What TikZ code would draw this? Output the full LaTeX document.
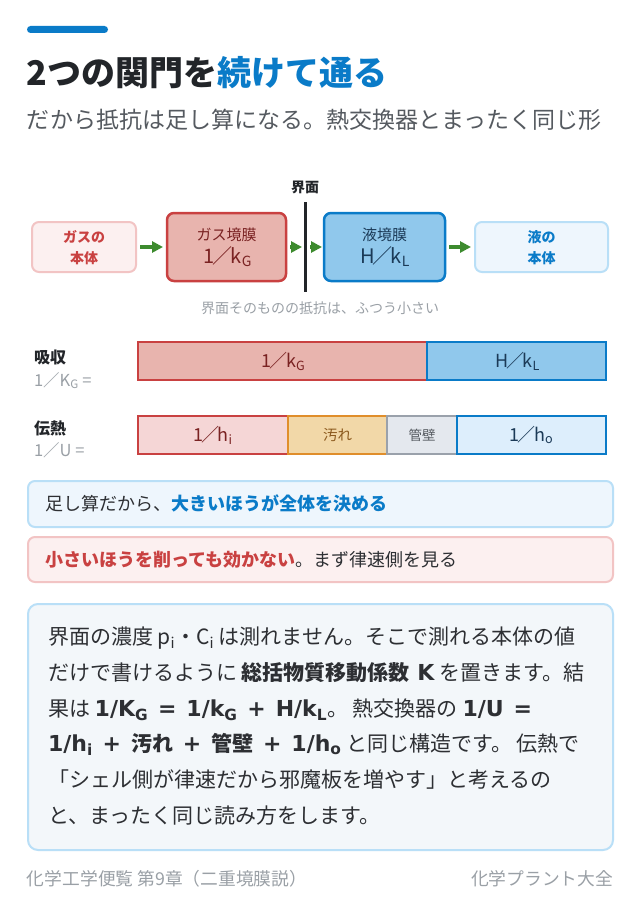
\documentclass[tikz,border=0pt]{standalone}
\usepackage{fontspec}
\setmainfont{Noto Sans CJK JP}
\newfontfamily\dvs{DejaVu Sans}
\usetikzlibrary{arrows.meta}
\definecolor{cblue}{HTML}{0A7BC8}
\definecolor{cdark}{HTML}{222529}
\definecolor{csub}{HTML}{555A60}
\definecolor{cred}{HTML}{C94141}
\definecolor{credfill}{HTML}{E8B4AE}
\definecolor{cpinkfill}{HTML}{FCF0F0}
\definecolor{cpinkline}{HTML}{F2C4C4}
\definecolor{cbluefill}{HTML}{90C8EC}
\definecolor{cpalefill}{HTML}{EEF6FD}
\definecolor{cpaleline}{HTML}{B9DFF7}
\definecolor{cgreen}{HTML}{3D8B2E}
\definecolor{cgray}{HTML}{9AA0A6}
\definecolor{corange}{HTML}{E08E2B}
\definecolor{corangefill}{HTML}{F2D8A8}
\definecolor{cbrown}{HTML}{8C5A1E}
\definecolor{cgrayline}{HTML}{9AA1AB}
\definecolor{cgrayfill}{HTML}{E4E8EE}
\definecolor{cpaleredfill}{HTML}{F5D6D6}
\definecolor{cpalebluefill}{HTML}{DDEEFC}
\definecolor{cboxfill}{HTML}{F3F7FA}
\definecolor{cnavy}{HTML}{1B3A57}
\definecolor{cdarkred}{HTML}{7A2222}
\definecolor{ctext}{HTML}{2D2F33}
\newcommand\fsz[1]{\fontsize{#1}{#1}\selectfont}
\newcommand\slsh{\hspace{-0.1em}／\hspace{-0.1em}}
\newcommand\bl[1]{{\dvs\bfseries\fsz{22}#1}}
\newcommand\gp{\hspace{0.45em}}
\begin{document}
\begin{tikzpicture}[x=1pt,y=-1pt,
  lbl/.style={inner sep=0pt, outer sep=0pt},
  box/.style={rounded corners=7pt, inner sep=0pt, outer sep=0pt},
  seg/.style={inner sep=0pt, outer sep=0pt, anchor=north west, line width=2.2pt, minimum height=38pt},
  arr/.style={draw=cgreen, line width=3.5pt, -{Triangle[length=11pt,width=11pt]}},
  callout/.style={rounded corners=7pt, line width=2pt, inner sep=0pt, anchor=north west, minimum width=585pt},
]
\useasboundingbox (0,0) rectangle (640,920);
\fill[white] (0,0) rectangle (640,920);

% header
\fill[cblue, rounded corners=3.5pt] (27,26) rectangle (108,33);
\node[lbl, anchor=base west, font=\fsz{34}\bfseries] (title) at (27,86)
  {\textcolor{cdark}{2つの関門を}\textcolor{cblue}{続けて通る}};
\node[lbl, anchor=base west, font=\fsz{23}, text=csub] (subtitle) at (27,128.5)
  {だから抵抗は足し算になる。熱交換器とまったく同じ形};

% interface diagram
\node[lbl, anchor=base, font=\fsz{14}\bfseries, text=cdark] (ifl) at (305,193) {界面};
\coordinate (ltop) at (305,202);
\coordinate (lbot) at (305,292);
\draw[cdark, line width=3pt] (ltop) -- (lbot);
\coordinate (ifc) at (305,247);

\node[box, draw=cpinkline, fill=cpinkfill, line width=2pt, minimum width=104pt, minimum height=50pt] (b1) at (84,247) {};
\node[box, draw=cred, fill=credfill, line width=2.5pt, minimum width=119pt, minimum height=68pt] (b2) at (226.5,247) {};
\node[box, draw=cblue, fill=cbluefill, line width=2.5pt, minimum width=121pt, minimum height=68pt] (b3) at (384.5,247) {};
\node[box, draw=cpaleline, fill=cpalefill, line width=2pt, minimum width=133pt, minimum height=50pt] (b4) at (541.5,247) {};

\node[lbl, anchor=base, font=\fsz{14}\bfseries, text=cred] (b1a) at (84,242.5) {ガスの};
\node[lbl, anchor=base, font=\fsz{14}\bfseries, text=cred] (b1b) at (84,263.5) {本体};
\node[lbl, anchor=base, font=\fsz{15}, text=cdarkred] (b2a) at (226.5,240.5) {ガス境膜};
\node[lbl, anchor=base, font=\fsz{20}, text=cdarkred] (b2b) at (228,263) {1\slsh k\textsubscript{G}};
\node[lbl, anchor=base, font=\fsz{15}, text=cnavy] (b3a) at (384.5,240.5) {液境膜};
\node[lbl, anchor=base, font=\fsz{20}, text=cnavy] (b3b) at (385,263) {H\slsh k\textsubscript{L}};
\node[lbl, anchor=base, font=\fsz{14}\bfseries, text=cblue] (b4a) at (541.5,242.5) {液の};
\node[lbl, anchor=base, font=\fsz{14}\bfseries, text=cblue] (b4b) at (541.5,263.5) {本体};

\draw[arr, shorten <=4pt, shorten >=4pt] (b1) -- (b2);
\draw[arr, shorten <=4pt, shorten >=3pt] (b2) -- (ifc);
\draw[arr, shorten <=5pt, shorten >=2pt] (ifc) -- (b3);
\draw[arr, shorten <=4pt, shorten >=4pt] (b3) -- (b4);

\node[lbl, anchor=base, font=\fsz{14}, text=cgray] (cap) at (320,313) {界面そのものの抵抗は、ふつう小さい};

% bars
\node[lbl, anchor=base west, font=\fsz{16}\bfseries, text=cdark] (absl) at (34,363) {吸収};
\node[lbl, anchor=base west, font=\fsz{16.5}, text=cgray] (absf) at (34,386) {1／K\textsubscript{G} =};
\node[seg, draw=cred, fill=credfill, minimum width=289pt] (s1) at (138,342) {};
\node[seg, draw=cblue, fill=cbluefill, minimum width=179pt] (s2) at (427,342) {};
\node[lbl, anchor=base, font=\fsz{18}, text=cdarkred] (s1t) at (283.5,367) {1\slsh k\textsubscript{G}};
\node[lbl, anchor=base, font=\fsz{18}, text=cnavy] (s2t) at (517.5,367) {H\slsh k\textsubscript{L}};

\node[lbl, anchor=base west, font=\fsz{16}\bfseries, text=cdark] (htl) at (34,434) {伝熱};
\node[lbl, anchor=base west, font=\fsz{16.5}, text=cgray] (htf) at (34,456) {1／U =};
\node[seg, draw=cred, fill=cpaleredfill, minimum width=150pt] (r1) at (138,416) {};
\node[seg, draw=corange, fill=corangefill, minimum width=99pt] (r2) at (288,416) {};
\node[seg, draw=cgrayline, fill=cgrayfill, minimum width=70pt] (r3) at (387,416) {};
\node[seg, draw=cblue, fill=cpalebluefill, minimum width=149pt] (r4) at (457,416) {};
\node[lbl, anchor=base, font=\fsz{18}, text=cdarkred] (r1t) at (213,441) {1\slsh h\textsubscript{i}};
\node[lbl, anchor=base, font=\fsz{14.5}, text=cbrown] (r2t) at (337.5,440.5) {汚れ};
\node[lbl, anchor=base, font=\fsz{13.5}, text=csub] (r3t) at (422,440) {管壁};
\node[lbl, anchor=base, font=\fsz{18}, text=cnavy] (r4t) at (531.5,441) {1\slsh h\textsubscript{o}};

% callouts
\node[callout, draw=cpaleline, fill=cpalefill, minimum height=46pt] (ca) at (27,480) {};
\node[lbl, anchor=base west, font=\fsz{18}, text=ctext] (cat) at (45,510)
  {足し算だから、\textcolor{cblue}{\bfseries 大きいほうが全体を決める}};
\node[callout, draw=cpinkline, fill=cpinkfill, minimum height=45pt] (cb) at (27,536) {};
\node[lbl, anchor=base west, font=\fsz{18}, text=ctext] (cbt) at (45,566)
  {\textcolor{cred}{\bfseries 小さいほうを削っても効かない}。まず律速側を見る};

% text box
\node[rounded corners=10pt, draw=cpaleline, fill=cboxfill, line width=2pt, inner sep=0pt, anchor=north west,
  minimum width=585pt, minimum height=246pt] (tb) at (27,603) {};
\begin{scope}[every node/.style={lbl, anchor=base west, font=\fsz{21}, text=ctext}]
\node (l1) at (48,644) {界面の濃度 p\textsubscript{i}・C\textsubscript{i} は測れません。そこで測れる本体の値};
\node (l2) at (48,680) {だけで書けるように \textbf{総括物質移動係数}\bl{ K} を置きます。結};
\node (l3) at (48,716) {果は \bl{1/K\textsubscript{G}\gp=\gp1/k\textsubscript{G}\gp+\gp H/k\textsubscript{L}}。 熱交換器の \bl{1/U\gp=}};
\node (l4) at (48,751) {\bl{1/h\textsubscript{i}\gp+\gp}\textbf{汚れ}\bl{\gp+\gp}\textbf{管壁}\bl{\gp+\gp1/h\textsubscript{o}} と同じ構造です。 伝熱で};
\node (l5) at (48,787) {「シェル側が律速だから邪魔板を増やす」と考えるの};
\node (l6) at (48,823) {と、まったく同じ読み方をします。};
\end{scope}

% footer
\node[lbl, anchor=base west, font=\fsz{17.75}, text=cgray] (fl) at (27,885.5) {化学工学便覧 第9章（二重境膜説）};
\node[lbl, anchor=base east, font=\fsz{17.75}, text=cgray] (fr) at (613,885.5) {化学プラント大全};
\end{tikzpicture}
\end{document}
